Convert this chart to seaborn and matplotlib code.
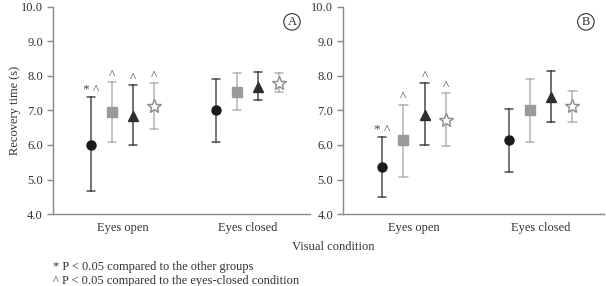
import numpy as np
import pandas as pd
import matplotlib
matplotlib.use("Agg")
import matplotlib.pyplot as plt
import seaborn as sns

# -----------------------------
# Data
# -----------------------------
panels = ["A", "B"]
conditions = ["Eyes open", "Eyes closed"]
groups = ["Group 1", "Group 2", "Group 3", "Group 4"]

# [group][condition]
mean_a = [[6.01, 7.00], [6.95, 7.54], [6.85, 7.69], [7.12, 7.80]]
low_a = [[4.66, 6.09], [6.09, 7.00], [6.00, 7.31], [6.46, 7.54]]
high_a = [[7.38, 7.92], [7.82, 8.08], [7.73, 8.12], [7.79, 8.08]]

mean_b = [[5.35, 6.14], [6.14, 7.00], [6.88, 7.40], [6.71, 7.12]]
low_b = [[4.48, 5.22], [5.08, 6.08], [6.00, 6.67], [5.96, 6.67]]
high_b = [[6.23, 7.05], [7.17, 7.92], [7.79, 8.15], [7.50, 7.56]]

marks_a = [["* ^", ""], ["^", ""], ["^", ""], ["^", ""]]
marks_b = [["* ^", ""], ["^", ""], ["^", ""], ["^", ""]]

footnotes = ["* P < 0.05 compared to the other groups",
             "^ P < 0.05 compared to the eyes-closed condition"]

# -----------------------------
# Long table: low / mean / high per cell, median + full range gives point + bar
# -----------------------------
rows = []
for panel, means, lows, highs in [("A", mean_a, low_a, high_a),
                                  ("B", mean_b, low_b, high_b)]:
    for gi, g in enumerate(groups):
        for ci, c in enumerate(conditions):
            for v in (lows[gi][ci], means[gi][ci], highs[gi][ci]):
                rows.append({"panel": panel, "group": g, "condition": c, "value": v})
df = pd.DataFrame(rows)

sns.set_style("white")
plt.rcParams["font.family"] = ["Liberation Serif", "DejaVu Serif"]

markers = ["o", "s", "^", "*"]
bar_colors = dict(zip(groups, ["#505050", "#b4b4b4", "#484848", "#b4b4b4"]))
face_colors = {"o": "#1a1a1a", "s": "#9a9a9a", "^": "#2e2e2e", "*": "white"}
edge_colors = {"o": "#1a1a1a", "s": "#9a9a9a", "^": "#2e2e2e", "*": "#8a8a8a"}
marker_sizes = {"o": 6.5, "s": 6.5, "^": 7, "*": 10}

fig = plt.figure(figsize=(6.06, 2.86), dpi=100)
ax_a = fig.add_axes([0.087, 0.2517, 0.4245, 0.724])
ax_b = fig.add_axes([0.566, 0.2517, 0.431, 0.724])

for ax, panel, highs, marks in [(ax_a, "A", high_a, marks_a),
                                (ax_b, "B", high_b, marks_b)]:
    sns.pointplot(
        data=df[df["panel"] == panel], x="condition", y="value",
        hue="group", order=conditions, hue_order=groups,
        estimator="median", errorbar=("pi", 100),
        dodge=0.5, palette=bar_colors, markers=markers,
        linestyle="none", capsize=0.065,
        err_kws={"linewidth": 1.1}, legend=False, ax=ax,
    )

    marker_lines = [l for l in ax.lines if l.get_marker() in markers]
    for line in marker_lines:
        m = line.get_marker()
        line.set_markerfacecolor(face_colors[m])
        line.set_markeredgecolor(edge_colors[m])
        line.set_markersize(marker_sizes[m])
        line.set_markeredgewidth(1.0)
        line.set_zorder(5)

    # significance marks above the bars
    for gi, line in enumerate(marker_lines):
        xs = line.get_xdata()
        for ci in range(len(conditions)):
            if marks[gi][ci]:
                ax.text(xs[ci], highs[gi][ci] + 0.04, marks[gi][ci],
                        ha="center", va="bottom", fontsize=9.5, color="#444444")

    ax.set_xlim(-0.56, 1.5)
    ax.set_ylim(4, 10)
    ax.set_yticks(np.arange(4, 10.01, 1))
    ax.set_yticklabels([f"{v:.1f}" for v in np.arange(4, 10.01, 1)])
    ax.set_xlabel("")
    ax.set_ylabel("")
    sns.despine(ax=ax)
    for s in ["left", "bottom"]:
        ax.spines[s].set_color("#888888")
        ax.spines[s].set_linewidth(1.0)
    ax.tick_params(axis="y", length=4, width=1, color="#888888",
                   labelsize=9, labelcolor="#333333", pad=3, left=True)
    ax.tick_params(axis="x", length=0, labelsize=9, labelcolor="#333333", pad=6)

    ax.text(0.93, 0.928, panel, transform=ax.transAxes, ha="center", va="center",
            fontsize=9, color="#333333",
            bbox=dict(boxstyle="circle,pad=0.18", fc="none", ec="#333333", lw=0.8))

ax_a.set_ylabel("Recovery time (s)", fontsize=9, color="#333333", labelpad=0)

fig.text(0.55, 0.136, "Visual condition", ha="center", va="center",
         fontsize=9, color="#333333")
fig.text(0.0875, 0.066, footnotes[0], ha="left", va="center", fontsize=9, color="#333333")
fig.text(0.0875, 0.016, footnotes[1], ha="left", va="center", fontsize=9, color="#333333")

fig.savefig("out.png", dpi=100)
